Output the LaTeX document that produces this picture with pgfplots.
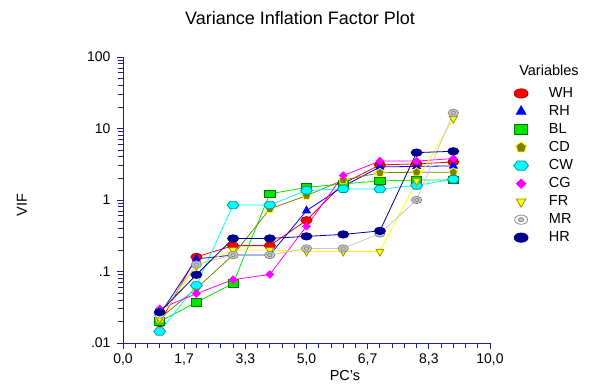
\documentclass[border=0pt]{standalone}
\usepackage{pgfplots}
\pgfplotsset{compat=1.18}
\usetikzlibrary{plotmarks}
\usepackage{fontspec}
\setmainfont{Liberation Sans}
\definecolor{axcol}{RGB}{30,30,140}
\definecolor{cwh}{RGB}{255,0,0}
\definecolor{crh}{RGB}{0,0,255}
\definecolor{cbl}{RGB}{0,230,0}
\definecolor{cbldk}{RGB}{0,120,0}
\definecolor{ccd}{RGB}{128,128,0}
\definecolor{ccw}{RGB}{0,255,255}
\definecolor{ccwdk}{RGB}{0,150,170}
\definecolor{ccg}{RGB}{255,0,255}
\definecolor{cfr}{RGB}{255,255,0}
\definecolor{cfrdk}{RGB}{150,150,0}
\definecolor{cmr}{RGB}{200,200,200}
\definecolor{cmrdk}{RGB}{140,140,140}
\definecolor{chr}{RGB}{0,0,140}
\pgfdeclareplotmark{ellip}{%
  \pgfpathellipse{\pgfpointorigin}{\pgfqpoint{1.5\pgfplotmarksize}{0pt}}{\pgfqpoint{0pt}{\pgfplotmarksize}}%
  \pgfusepathqfillstroke}
\pgfdeclareplotmark{hexw}{%
  \pgfpathmoveto{\pgfqpoint{1.6\pgfplotmarksize}{0pt}}%
  \pgfpathlineto{\pgfqpoint{0.8\pgfplotmarksize}{\pgfplotmarksize}}%
  \pgfpathlineto{\pgfqpoint{-0.8\pgfplotmarksize}{\pgfplotmarksize}}%
  \pgfpathlineto{\pgfqpoint{-1.6\pgfplotmarksize}{0pt}}%
  \pgfpathlineto{\pgfqpoint{-0.8\pgfplotmarksize}{-\pgfplotmarksize}}%
  \pgfpathlineto{\pgfqpoint{0.8\pgfplotmarksize}{-\pgfplotmarksize}}%
  \pgfpathclose\pgfusepathqfillstroke}
\pgfdeclareplotmark{ring}{%
  \pgfpathellipse{\pgfpointorigin}{\pgfqpoint{1.4\pgfplotmarksize}{0pt}}{\pgfqpoint{0pt}{\pgfplotmarksize}}%
  \pgfusepathqfillstroke
  \pgfsetfillcolor{cmr}%
  \pgfpathellipse{\pgfpointorigin}{\pgfqpoint{0.6\pgfplotmarksize}{0pt}}{\pgfqpoint{0pt}{0.45\pgfplotmarksize}}%
  \pgfusepathqfillstroke}
\pgfdeclareplotmark{rect}{%
  \pgfpathrectangle{\pgfqpoint{-1.4\pgfplotmarksize}{-\pgfplotmarksize}}{\pgfqpoint{2.8\pgfplotmarksize}{2\pgfplotmarksize}}%
  \pgfusepathqfillstroke}
\begin{document}
\begin{tikzpicture}
\path[use as bounding box] (0,0) rectangle (593bp,389bp);
\begin{axis}[
  at={(123bp,46bp)}, anchor=south west,
  width=367bp, height=286bp, scale only axis,
  xmin=0, xmax=10, ymin=0.01, ymax=100, ymode=log,
  axis x line*=bottom, axis y line*=left,
  axis line style={axcol, line width=1bp},
  tick style={axcol, line width=0.9bp},
  tick align=outside,
  major tick length=6bp, minor tick length=5.5bp,
  xtick={0,1.66667,3.33333,5,6.66667,8.33333,10},
  xticklabels={{0,0},{1,7},{3,3},{5,0},{6,7},{8,3},{10,0}},
  minor xtick={0.33333,0.66667,1,1.33333,2,2.33333,2.66667,3,3.66667,4,4.33333,4.66667,5.33333,5.66667,6,6.33333,7,7.33333,7.66667,8,8.66667,9,9.33333,9.66667},
  ytick={0.01,0.1,1,10,100},
  yticklabels={.01,.1,1,10,100},
  minor ytick={0.02,0.03,0.04,0.05,0.06,0.07,0.08,0.09,0.2,0.3,0.4,0.5,0.6,0.7,0.8,0.9,2,3,4,5,6,7,8,9,20,30,40,50,60,70,80,90},
  ticklabel style={font=\fontsize{14bp}{16bp}\selectfont, text=black},
  xticklabel style={yshift=-1bp},
  yticklabel style={xshift=-3bp},
  clip=false,
  every axis plot/.append style={line width=0.8bp},
  mark size=3.7bp,
  legend style={at={(1.06,0.895)}, anchor=north west, draw=none, fill=none,
    font=\fontsize{14.5bp}{16bp}\selectfont, row sep=5.5bp, inner sep=0pt,
    nodes={inner sep=0.5bp}},
  legend cell align=left,
  legend image code/.code={\path (0cm,0cm) (1.25cm,0cm); \draw[#1,only marks,every mark/.append style={scale=1.25}] plot coordinates {(0.3cm,0cm)};},
]
\addplot[color=cwh, mark=ellip, mark options={fill=cwh, draw=red!70!black}]
  coordinates {(1,0.019)(2,0.16)(3,0.23)(4,0.23)(5,0.52)(6,1.7)(7,3.1)(8,3.2)(9,3.4)};
\addlegendentry{WH}
\addplot[color=crh, mark=triangle*, mark options={fill=crh, draw=crh, scale=1.2}]
  coordinates {(1,0.025)(2,0.15)(3,0.17)(4,0.17)(5,0.71)(6,1.55)(7,2.9)(8,2.95)(9,3.0)};
\addlegendentry{RH}
\addplot[color=cbl, mark=rect, mark options={fill=cbl, draw=cbldk}]
  coordinates {(1,0.02)(2,0.037)(3,0.068)(4,1.22)(5,1.5)(6,1.68)(7,1.85)(8,1.9)(9,1.9)};
\addlegendentry{BL}
\addplot[color=ccd, mark=pentagon*, mark options={fill=ccd, draw=cfr, scale=1.2}]
  coordinates {(1,0.022)(2,0.058)(3,0.17)(4,0.75)(5,1.15)(6,1.9)(7,2.4)(8,2.45)(9,2.45)};
\addlegendentry{CD}
\addplot[color=ccw, mark=hexw, mark options={fill=ccw, draw=ccwdk}]
  coordinates {(1,0.0145)(2,0.064)(3,0.85)(4,0.85)(5,1.36)(6,1.43)(7,1.42)(8,1.6)(9,1.95)};
\addlegendentry{CW}
\addplot[color=ccg, mark=diamond*, mark options={fill=ccg, draw=ccg, xscale=1.4}]
  coordinates {(1,0.03)(2,0.049)(3,0.077)(4,0.091)(5,0.43)(6,2.2)(7,3.5)(8,3.5)(9,3.8)};
\addlegendentry{CG}
\addplot[color=cfr, mark=triangle*, mark options={fill=cfr, draw=cfrdk, rotate=180, scale=1.2}]
  coordinates {(1,0.022)(2,0.12)(3,0.2)(4,0.2)(5,0.19)(6,0.19)(7,0.19)(8,1.85)(9,13.7)};
\addlegendentry{FR}
\addplot[color=cmr, mark=ring, mark options={fill=white, draw=cmrdk}]
  coordinates {(1,0.025)(2,0.125)(3,0.17)(4,0.17)(5,0.21)(6,0.21)(7,0.34)(8,1.0)(9,16.5)};
\addlegendentry{MR}
\addplot[color=chr, mark=ellip, mark options={fill=chr, draw=chr}]
  coordinates {(1,0.027)(2,0.09)(3,0.29)(4,0.29)(5,0.31)(6,0.33)(7,0.37)(8,4.6)(9,4.8)};
\addlegendentry{HR}
\end{axis}
\node[font=\fontsize{18bp}{20bp}\selectfont] at (300bp,371bp) {Variance Inflation Factor Plot};
\node[font=\fontsize{14.5bp}{16bp}\selectfont] at (345bp,13bp) {PC's};
\node[font=\fontsize{14.5bp}{16bp}\selectfont, rotate=90] at (22bp,184bp) {VIF};
\node[font=\fontsize{14.5bp}{16bp}\selectfont] at (549bp,319bp) {Variables};
\end{tikzpicture}
\end{document}
